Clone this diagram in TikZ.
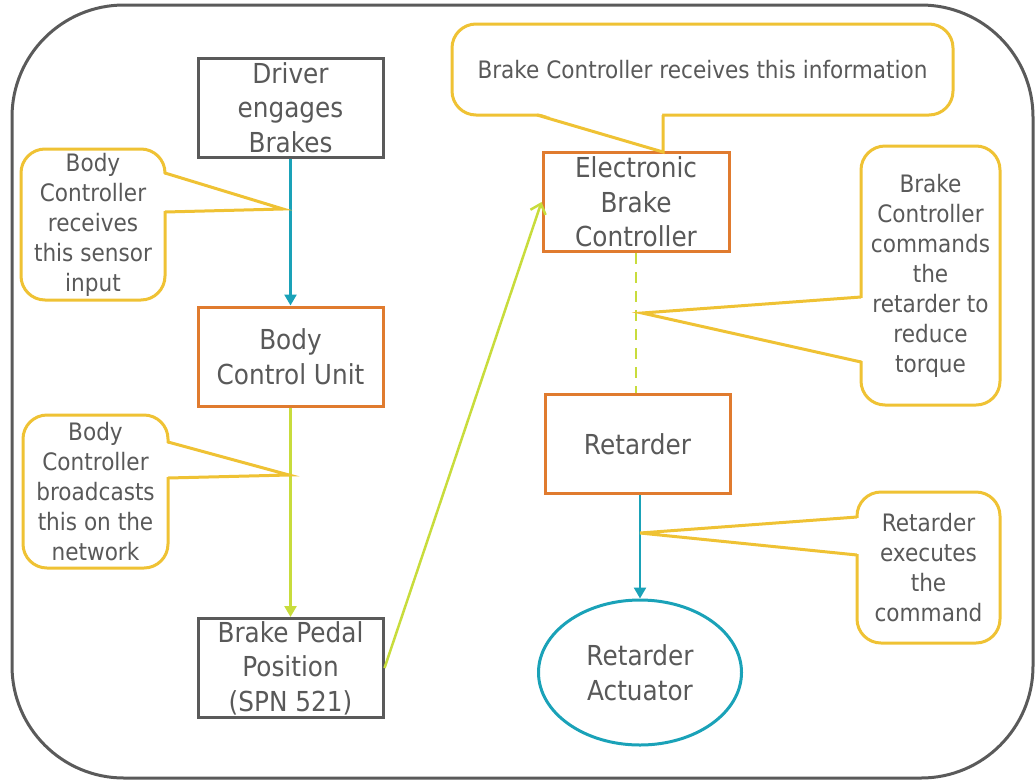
\documentclass[tikz,border=0pt]{standalone}
\usepackage{fontspec}
\setmainfont{DejaVu Sans}[FakeStretch=0.9]
\usetikzlibrary{arrows.meta,shapes.geometric}
\definecolor{frame}{HTML}{5A5A5A}
\definecolor{txt}{HTML}{595959}
\definecolor{orng}{HTML}{E07B2F}
\definecolor{tealc}{HTML}{1AA2B8}
\definecolor{lime}{HTML}{C8DC3C}
\definecolor{yel}{HTML}{EFC234}
\newcommand{\bigfnt}{\fontsize{27.5}{34.5}\selectfont}
\newcommand{\smfnt}{\fontsize{24}{30}\selectfont}
\tikzset{
  procbox/.style={draw, line width=3pt, minimum width=185pt, minimum height=99pt, inner sep=0pt, align=center, font=\bigfnt, text=txt, fill=white},
  callout/.style={draw=yel, line width=3pt, rounded corners=24pt, fill=white, inner sep=0pt, align=center, font=\smfnt, text=txt},
  ptrfill/.style={fill=white},
  ptr/.style={draw=yel, line width=3pt, line join=miter},
  tealarrow/.style={draw=tealc, line width=2.5pt, -{Triangle[width=12pt,length=11pt]}},
  limearrow/.style={draw=lime, line width=2.5pt, -{Triangle[width=12pt,length=11pt]}},
  limebarb/.style={draw=lime, line width=2.5pt, -{Straight Barb[width=16pt,length=9pt,line width=2.5pt]}},
  limedash/.style={draw=lime, line width=2.7pt, dash pattern=on 11pt off 8pt},
}
\begin{document}
\begin{tikzpicture}[x=1pt,y=-1pt]
\useasboundingbox (0,0) rectangle (1035,782);
% outer frame
\draw[frame, line width=3pt, rounded corners=112pt] (12,5) rectangle (1033,778);

% main nodes
\node[procbox, draw=frame] (drv) at (290.5,107.5) {Driver\\engages\\Brakes};
\node[procbox, draw=orng] (bcu) at (290.5,356.5) {Body\\Control Unit};
\node[procbox, draw=frame] (bpp) at (290.5,668) {Brake Pedal\\Position\\(SPN 521)};
\node[procbox, draw=orng, minimum width=186pt] (ebc) at (636,202) {Electronic\\Brake\\Controller};
\node[procbox, draw=orng] (ret) at (637.5,444) {Retarder};
\node[ellipse, draw=tealc, line width=3pt, minimum width=203pt, minimum height=145pt, inner sep=0pt, align=center, font=\bigfnt, text=txt] (act) at (640,672.5) {Retarder\\Actuator};

% connectors
\draw[tealarrow] (drv.south) -- (bcu.north);
\draw[limearrow] (bcu.south) -- (bpp.north);
\draw[limebarb] (bpp.east) -- (ebc.west);
\draw[limedash] (ebc.south) -- (ebc.south |- ret.north);
\draw[tealarrow] (act.north |- ret.south) -- (act.north);

% callouts
\node[callout, minimum width=144pt, minimum height=151pt] (c1) at (93,224.5) {Body\\Controller\\receives\\this sensor\\input};
\coordinate (c1a) at (165,173); \coordinate (c1b) at (165,212); \coordinate (c1t) at (283,209);
\fill[ptrfill] (163,174) -- (c1t) -- (163,211) -- cycle;
\draw[ptr] (c1a) -- (c1t) -- (c1b);

\node[callout, minimum width=145pt, minimum height=153pt] (c2) at (95.5,491.5) {Body\\Controller\\broadcasts\\this on the\\network};
\coordinate (c2a) at (168,442); \coordinate (c2b) at (168,478); \coordinate (c2t) at (289,475);
\fill[ptrfill] (166,443) -- (c2t) -- (166,477) -- cycle;
\draw[ptr] (c2a) -- (c2t) -- (c2b);

\node[callout, minimum width=501pt, minimum height=91pt] (c3) at (702.5,69.5) {Brake Controller receives this information};
\coordinate (c3a) at (537,115); \coordinate (c3b) at (663,115); \coordinate (c3t) at (663,152);
\fill[ptrfill] (538,113) -- (c3t) -- (662,113) -- cycle;
\draw[ptr] (c3a) -- (c3t) -- (c3b);

\node[callout, minimum width=139pt, minimum height=259pt] (c4) at (930.5,275.5) {Brake\\Controller\\commands\\the\\retarder to\\reduce\\torque};
\coordinate (c4a) at (861,297); \coordinate (c4b) at (861,362); \coordinate (c4t) at (642,313);
\fill[ptrfill] (863,298) -- (c4t) -- (863,361) -- cycle;
\draw[ptr] (c4a) -- (c4t) -- (c4b);

\node[callout, minimum width=143pt, minimum height=151pt] (c5) at (928.5,567.5) {Retarder\\executes\\the\\command};
\coordinate (c5a) at (857,517); \coordinate (c5b) at (857,555); \coordinate (c5t) at (640,533);
\fill[ptrfill] (859,518) -- (c5t) -- (859,554) -- cycle;
\draw[ptr] (c5a) -- (c5t) -- (c5b);
\end{tikzpicture}
\end{document}
